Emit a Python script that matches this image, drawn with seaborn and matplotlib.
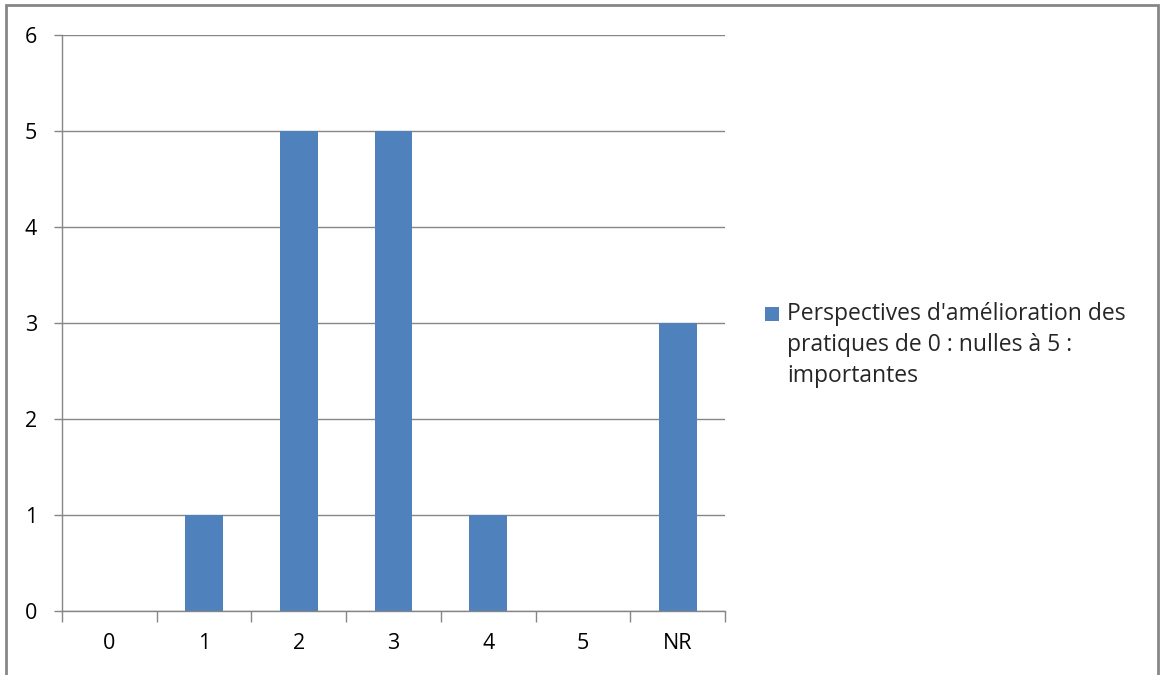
import matplotlib
matplotlib.use("Agg")
import matplotlib.pyplot as plt
from matplotlib.patches import Rectangle
from matplotlib.container import BarContainer
from matplotlib.legend_handler import HandlerPatch, update_from_first_child
import seaborn as sns
import pandas as pd

# Data
categories = ["0", "1", "2", "3", "4", "5", "NR"]
counts = [0, 1, 5, 5, 1, 0, 3]
series_label = "Perspectives d'amélioration des\npratiques de 0 : nulles à 5 :\nimportantes"

df = pd.DataFrame({"note": categories, "effectif": counts})

sns.set_theme(style="white")
plt.rcParams["font.family"] = ["Open Sans", "DejaVu Sans"]

bar_color = "#4F81BD"
grid_color = "#868686"
font_size = 16.5
line_spacing = 1.4

fig = plt.figure(figsize=(11.6, 6.75), dpi=100)
ax = fig.add_axes([62 / 1160, 64 / 675, 663 / 1160, 576 / 675])

sns.barplot(data=df, x="note", y="effectif", color=bar_color, width=0.4,
            saturation=1, linewidth=0, ax=ax, label=series_label)

ax.set_ylim(0, 6)
ax.set_xlim(-0.5, len(categories) - 0.5)
ax.set_yticks(range(0, 7))
ax.yaxis.grid(True, color=grid_color, linewidth=1)
ax.set_axisbelow(True)
ax.set_xlabel("")
ax.set_ylabel("")

for side in ["top", "right"]:
    ax.spines[side].set_visible(False)
for side in ["left", "bottom"]:
    ax.spines[side].set_color(grid_color)
    ax.spines[side].set_linewidth(1)

# tick marks between categories on x, outward ticks on y
ax.set_xticks([i - 0.5 for i in range(len(categories) + 1)], minor=True)
ax.tick_params(axis="x", which="major", length=0, pad=16, labelsize=font_size - 1, colors="black")
ax.tick_params(axis="x", which="minor", length=8, width=1, color=grid_color, direction="out", bottom=True)
ax.tick_params(axis="y", which="major", length=6, width=1, color=grid_color, direction="out",
               left=True, pad=12, labelsize=font_size - 1, labelcolor="black")


def first_line_square(legend, orig_handle, xdescent, ydescent, width, height, fontsize):
    # put the square next to the first line of the wrapped label
    shift = fontsize * line_spacing
    return Rectangle((-xdescent, -ydescent + shift), width, height)


square_handler = HandlerPatch(patch_func=first_line_square, update_func=update_from_first_child)
leg = ax.legend(loc="center left", bbox_to_anchor=(756 / 1160, 330 / 675),
                bbox_transform=fig.transFigure, frameon=False, fontsize=font_size,
                handlelength=0.6, handleheight=0.6, handletextpad=0.35,
                borderaxespad=0,
                handler_map={BarContainer: square_handler})
for t in leg.get_texts():
    t.set_linespacing(line_spacing)

# outer chart border
fig.patches.append(Rectangle((6 / 1160, -0.05), 1152 / 1160, 1.05 - 5 / 675,
                             transform=fig.transFigure, fill=False,
                             edgecolor=grid_color, linewidth=2))

fig.savefig("out.png", dpi=100)
